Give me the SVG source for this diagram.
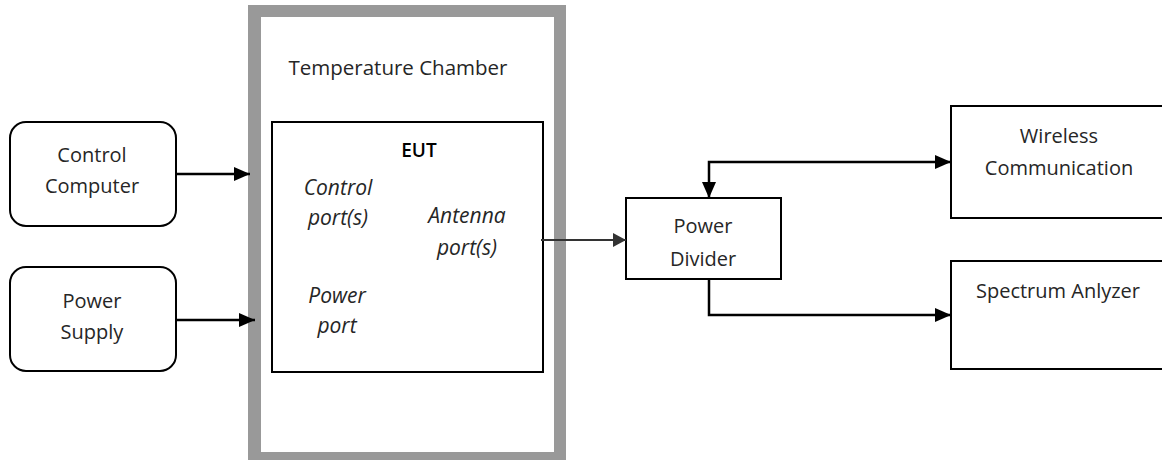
<svg xmlns="http://www.w3.org/2000/svg" width="1162" height="461" viewBox="0 0 1162 461">
<style>
text{font-family:"Open Sans","Liberation Sans",sans-serif;fill:#262626;font-size:20px}
.it{font-style:italic;font-size:21px}
.box{fill:#fff;stroke:#000;stroke-width:2}
.c{text-anchor:middle}
.ln{fill:none;stroke:#000;stroke-width:2.5}
</style>
<defs>
<marker id="ah" viewBox="0 0 16 14" refX="16" refY="7" markerWidth="16" markerHeight="14" markerUnits="userSpaceOnUse" orient="auto-start-reverse"><path d="M0,0 L16,7 L0,14 z" fill="#000"/></marker>
<marker id="ahg" viewBox="0 0 13 14" refX="13" refY="7" markerWidth="13" markerHeight="14" markerUnits="userSpaceOnUse" orient="auto"><path d="M0,0 L13,7 L0,14 z" fill="#333"/></marker>
</defs>
<rect width="1162" height="461" fill="#fff"/>
<g id="chamber">
<path d="M248,5 H566 V460 H248 Z M261,17 V452 H554 V17 Z" fill="#999" fill-rule="evenodd"/>
<text x="398" y="75" class="c" style="font-size:20.5px">Temperature Chamber</text>
</g>
<g id="eut">
<rect x="272" y="122" width="271" height="250" class="box"/>
<text x="419" y="157" class="c" style="fill:#000;font-weight:600;font-size:19px">EUT</text>
<text x="338" y="195" class="c it">Control</text>
<text x="338" y="225" class="c it">port(s)</text>
<text x="467" y="223" class="c it">Antenna</text>
<text x="467" y="255" class="c it">port(s)</text>
<text x="337" y="303" class="c it">Power</text>
<text x="337" y="333" class="c it">port</text>
</g>
<g id="control-computer">
<rect x="10" y="122" width="166" height="104" rx="16" class="box"/>
<text x="92" y="162" class="c">Control</text>
<text x="92" y="193" class="c">Computer</text>
</g>
<g id="power-supply">
<rect x="10" y="267" width="166" height="104" rx="16" class="box"/>
<text x="92" y="308" class="c">Power</text>
<text x="92" y="339" class="c">Supply</text>
</g>
<g id="power-divider">
<rect x="626" y="198" width="155" height="81" class="box"/>
<text x="703" y="233" class="c">Power</text>
<text x="703" y="266" class="c">Divider</text>
</g>
<g id="wireless">
<rect x="951" y="106" width="230" height="112" class="box"/>
<text x="1059" y="143" class="c">Wireless</text>
<text x="1059" y="175" class="c">Communication</text>
</g>
<g id="spectrum">
<rect x="951" y="261" width="230" height="108" class="box"/>
<text x="1058" y="298" class="c">Spectrum Anlyzer</text>
</g>
<g id="connectors">
<path d="M176,174 H250" class="ln" marker-end="url(#ah)"/>
<path d="M176,320 H255" class="ln" marker-end="url(#ah)"/>
<path d="M541,240 H626" fill="none" stroke="#333" stroke-width="2" marker-end="url(#ahg)"/>
<path d="M709,198 V162 H951" class="ln" marker-start="url(#ah)" marker-end="url(#ah)"/>
<path d="M709,279 V315 H951" class="ln" marker-end="url(#ah)"/>
</g>
</svg>
